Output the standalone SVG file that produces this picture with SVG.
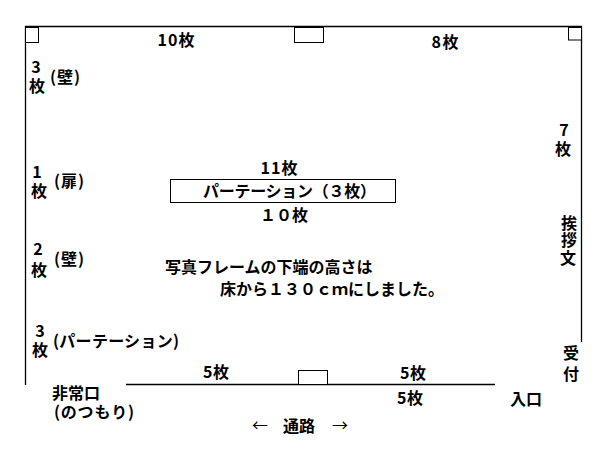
<svg xmlns="http://www.w3.org/2000/svg" width="600" height="450" viewBox="0 0 600 450">
<style>
text{font-family:"Noto Sans CJK JP","DejaVu Sans",sans-serif;font-size:16px;font-weight:700;fill:#000}
.m{text-anchor:middle}
.b{fill:#fff;stroke:#000;stroke-width:1}
.w{fill:none;stroke:#000;stroke-width:1.3}
.t{font-weight:400}
</style>
<rect width="600" height="450" fill="#fff"/>
<g id="connectors">
<path class="w" d="M25.500 385V26.500H581.500V342"/>
<path class="w" d="M126 384.500H495"/>
</g>
<g id="pillar-left"><rect class="b" x="25.500" y="27.500" width="13" height="15"/></g>
<g id="window-top"><rect class="b" x="294.500" y="27.500" width="29" height="15"/></g>
<g id="pillar-right"><rect class="b" x="568.500" y="27.500" width="13" height="12.500"/></g>
<g id="door-bottom"><rect class="b" x="298.500" y="370.500" width="29" height="14"/></g>
<g id="partition"><rect class="b" x="170.500" y="179.500" width="225" height="23"/><text x="203" y="197" textLength="173" lengthAdjust="spacing">パーテーション（３枚）</text></g>
<g id="labels">
<text x="176" y="46" class="m" textLength="37">10枚</text>
<text x="445" y="48" class="m" textLength="27">8枚</text>
<text x="36" y="73" class="m">3</text><text x="37" y="92" class="m">枚</text><text x="65" y="83" class="m" textLength="30">(壁)</text>
<text x="37" y="178" class="m">1</text><text x="39" y="197" class="m">枚</text><text x="69" y="187" class="m" textLength="30">(扉)</text>
<text x="38" y="255" class="m">2</text><text x="39" y="276" class="m">枚</text><text x="69" y="265" class="m" textLength="30">(壁)</text>
<text x="40" y="337" class="m">3</text><text x="40" y="356" class="m">枚</text><text x="116" y="347" class="m" textLength="126">(パーテーション)</text>
<text x="564" y="136" class="m">7</text><text x="563" y="155" class="m">枚</text>
<text x="569" y="229" class="m">挨</text><text x="569" y="246" class="m">拶</text><text x="568" y="264" class="m">文</text>
<text x="571" y="359" class="m">受</text><text x="571" y="380" class="m">付</text>
<text x="279" y="174" class="m" textLength="37">11枚</text>
<text x="284" y="221" class="m">１０枚</text>
<text x="165" y="273">写真フレームの下端の高さは</text>
<text x="220" y="295" textLength="224">床から１３０ｃｍにしました。</text>
<text x="216" y="378" class="m" textLength="26">5枚</text>
<text x="413" y="379" class="m" textLength="26">5枚</text>
<text x="410" y="404" class="m" textLength="26">5枚</text>
<text x="526" y="405" class="m">入口</text>
<text x="52" y="399">非常口</text>
<text x="54" y="418" textLength="80">(のつもり)</text>
<text x="260" y="431" class="m t">←</text>
<text x="299" y="432" class="m">通路</text>
<text x="340" y="431" class="m t">→</text>
</g>
</svg>
